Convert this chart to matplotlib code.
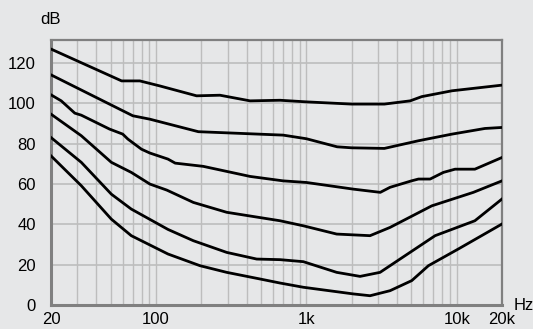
import numpy as np
import matplotlib
matplotlib.use('Agg')
import matplotlib.pyplot as plt

# Equal-loudness style contours (Hz, dB)
f1 = [20, 59, 78, 106, 186, 266, 422, 668, 1000, 2000, 3300, 4900, 5850, 9300, 20000]
db1 = [127, 111.2, 111.2, 108.7, 103.8, 104.1, 101.3, 101.6, 100.8, 99.7, 99.7, 101.3, 103.4, 106.3, 109.1]

f2 = [20, 70, 91, 191, 700, 1000, 1600, 2000, 3300, 5560, 9300, 15400, 20000]
db2 = [114.2, 93.9, 92.2, 86, 84.3, 82.5, 78.5, 78, 77.7, 81.5, 84.8, 87.6, 88.1]

f3 = [20, 23.4, 28.8, 31.8, 49, 60, 65, 80, 91, 120, 134, 206, 422, 700, 1000, 2050,
      3100, 3600, 5000, 5560, 6650, 8150, 9750, 13200, 20000]
db3 = [104.3, 101.3, 95.2, 94.2, 87.3, 84.8, 82.3, 77.3, 75.4, 72.4, 70.4, 68.8, 63.8,
       61.6, 60.8, 57.5, 55.9, 58.4, 61.6, 62.5, 62.5, 65.8, 67.4, 67.4, 73.2]

f4 = [20, 31.8, 50.4, 68.4, 91, 118, 177, 295, 668, 954, 1590, 2650, 3600, 6820, 12900, 20000]
db4 = [94.7, 84, 70.8, 65.8, 60, 57, 50.9, 46, 41.8, 39.3, 35.2, 34.4, 38.5, 49.2, 55.9, 61.6]

f5 = [20, 31.8, 50.4, 68.4, 120, 177, 295, 467, 668, 954, 1590, 2275, 3090, 3600, 7180, 13200, 20000]
db5 = [83.1, 70.8, 55, 47.6, 37.5, 31.9, 26.1, 22.8, 22.5, 21.5, 16.2, 14.2, 16.2, 19.5, 34.4, 41.8, 52.6]

f6 = [20, 31.8, 50.4, 68.4, 120, 196, 295, 492, 668, 954, 2050, 2650, 3600, 5020, 6480, 10250, 20000]
db6 = [74, 59.2, 42.6, 34.4, 25.3, 19.5, 16.2, 12.9, 10.9, 8.8, 5.5, 4.6, 7.1, 12.1, 19.5, 27.8, 40.2]

curves = [(f1, db1), (f2, db2), (f3, db3), (f4, db4), (f5, db5), (f6, db6)]

xticks = [20, 100, 1000, 10000, 20000]
xlabels = ['20', '100', '1k', '10k', '20k']
yticks = [0, 20, 40, 60, 80, 100, 120]
xgrid = [30, 40, 50, 60, 70, 80, 90, 100, 200, 300, 400, 500, 600, 700, 800, 900,
         1000, 2000, 3000, 4000, 5000, 6000, 7000, 8000, 9000, 10000]

bg = '#e6e7e8'
plt.rcParams['font.family'] = ['Liberation Sans', 'DejaVu Sans']

fig = plt.figure(figsize=(5.33, 3.29), dpi=100, facecolor=bg)
ax = fig.add_axes([51/533, 24/329, 451/533, 265/329], facecolor=bg)

for g in xgrid:
    ax.axvline(g, color='#bdbdbd', lw=1.0, zorder=1)
for g in yticks[1:]:
    ax.axhline(g, color='#bdbdbd', lw=1.2, zorder=1)

for f, db in curves:
    ax.plot(f, db, color='black', lw=2.0, zorder=3, solid_joinstyle='round')

ax.set_xscale('log')
ax.set_xlim(20, 20000)
ax.set_ylim(0, 131.5)
ax.set_xticks(xticks)
ax.set_xticklabels(xlabels)
ax.xaxis.set_minor_locator(matplotlib.ticker.NullLocator())
ax.set_yticks(yticks)
ax.tick_params(axis='both', length=0, labelsize=12, colors='black')
ax.tick_params(axis='y', pad=11)
ax.tick_params(axis='x', pad=5)

for s in ax.spines.values():
    s.set_color('#808080')
    s.set_linewidth(1.6)
ax.spines['left'].set_linewidth(2.2)
ax.spines['bottom'].set_linewidth(2.2)

fig.text(50.5/533, 1 - 20/329, 'dB', fontsize=12, ha='center', va='center')
fig.text(514/533, 1 - 306/329, 'Hz', fontsize=12, ha='left', va='center')

fig.savefig('out.png', dpi=100, facecolor=bg)
